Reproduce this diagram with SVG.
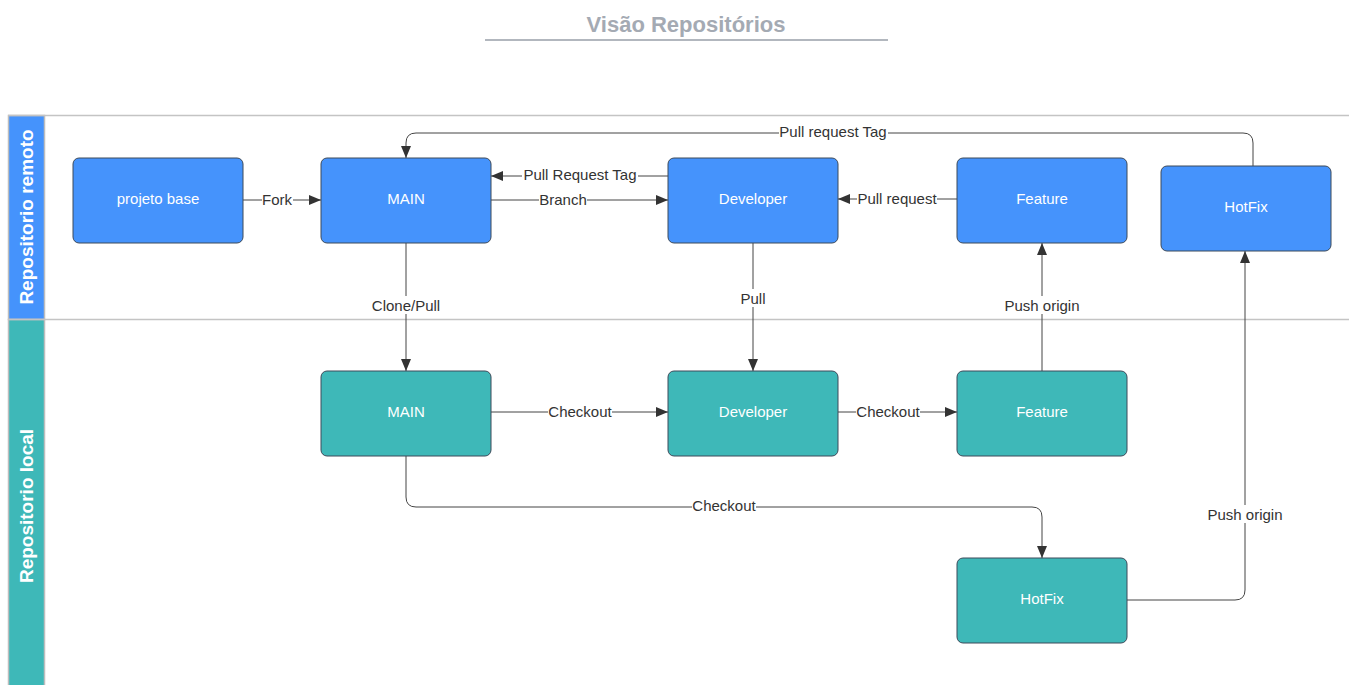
<svg xmlns="http://www.w3.org/2000/svg" width="1349" height="685" viewBox="0 0 1349 685">
<defs>
<marker id="arr" viewBox="0 0 12 10" refX="12" refY="5" markerWidth="12" markerHeight="10" markerUnits="userSpaceOnUse" orient="auto">
<path d="M0,0 L12,5 L0,10 Z" fill="#333"/>
</marker>
<style>
.node rect{stroke:#3d4a5a;stroke-width:1}
.blue rect{fill:#4593fc}
.teal rect{fill:#3eb8b8}
.node text{font-family:"Liberation Sans",Arial,sans-serif;font-size:15px;fill:#fff;text-anchor:middle;dominant-baseline:central}
.edge{fill:none;stroke:#444;stroke-width:1}
.arrow{marker-end:url(#arr)}
.lbl{font-family:"Liberation Sans",Arial,sans-serif;font-size:15px;fill:#333;text-anchor:middle;dominant-baseline:central}
.lane{font-family:"Liberation Sans",Arial,sans-serif;font-size:19px;font-weight:bold;fill:#fff;text-anchor:middle;dominant-baseline:central}
</style>
</defs>
<rect width="1349" height="685" fill="#fff"/>
<g id="title">
<text x="686" y="24" font-family="'Liberation Sans',Arial,sans-serif" font-size="22" font-weight="bold" fill="#a4aab3" text-anchor="middle" dominant-baseline="central">Visão Repositórios</text>
<line x1="485" y1="40" x2="888" y2="40" stroke="#b2b7be" stroke-width="2"/>
</g>
<g id="lanes">
<rect x="8.5" y="115.5" width="36" height="204" fill="#4593fc" stroke="#bdbdbd" stroke-width="1.5"/>
<rect x="8.5" y="319.5" width="36" height="370" fill="#3eb8b8" stroke="#bdbdbd" stroke-width="1.5"/>
<line x1="8" y1="115.5" x2="1349" y2="115.5" stroke="#c4c4c4" stroke-width="1.5"/>
<line x1="8" y1="319.5" x2="1349" y2="319.5" stroke="#c4c4c4" stroke-width="1.5"/>
<text class="lane" transform="translate(26,217) rotate(-90)">Repositorio remoto</text>
<text class="lane" transform="translate(26,506) rotate(-90)">Repositorio local</text>
</g>
<g id="connectors">
<path class="edge arrow" d="M243,200 H321"/>
<path class="edge arrow" d="M491,200 H668"/>
<path class="edge arrow" d="M668,176 H491"/>
<path class="edge arrow" d="M957,199 H838"/>
<path class="edge arrow" d="M1253,166 V143 Q1253,133 1243,133 H416 Q406,133 406,143 V158"/>
<path class="edge arrow" d="M406,243 V371"/>
<path class="edge arrow" d="M753,243 V371"/>
<path class="edge arrow" d="M1042,371 V243"/>
<path class="edge arrow" d="M491,412 H668"/>
<path class="edge arrow" d="M838,412 H957"/>
<path class="edge arrow" d="M406,456 V497 Q406,507 416,507 H1032 Q1042,507 1042,517 V558"/>
<path class="edge arrow" d="M1127,600 H1235 Q1245,600 1245,590 V251"/>
<g>
<rect x="262" y="191" width="31" height="18" fill="#fff"/><text class="lbl" x="277" y="199">Fork</text>
<rect x="539" y="191" width="48" height="18" fill="#fff"/><text class="lbl" x="563" y="199">Branch</text>
<rect x="522" y="166" width="116" height="18" fill="#fff"/><text class="lbl" x="580" y="174">Pull Request Tag</text>
<rect x="857" y="190" width="80" height="18" fill="#fff"/><text class="lbl" x="897" y="198">Pull request</text>
<rect x="779" y="123" width="109" height="18" fill="#fff"/><text class="lbl" x="833" y="131">Pull request Tag</text>
<rect x="371" y="296" width="70" height="18" fill="#fff"/><text class="lbl" x="406" y="305">Clone/Pull</text>
<rect x="739" y="289" width="28" height="18" fill="#fff"/><text class="lbl" x="753" y="298">Pull</text>
<rect x="1003" y="296" width="78" height="18" fill="#fff"/><text class="lbl" x="1042" y="305">Push origin</text>
<rect x="548" y="403" width="64" height="18" fill="#fff"/><text class="lbl" x="580" y="411">Checkout</text>
<rect x="856" y="403" width="64" height="18" fill="#fff"/><text class="lbl" x="888" y="411">Checkout</text>
<rect x="692" y="497" width="64" height="18" fill="#fff"/><text class="lbl" x="724" y="505">Checkout</text>
<rect x="1206" y="505" width="78" height="18" fill="#fff"/><text class="lbl" x="1245" y="514">Push origin</text>
</g>
</g>
<g id="r-base" class="node blue"><rect x="73" y="158" width="170" height="85" rx="6"/><text x="158" y="198">projeto base</text></g>
<g id="r-main" class="node blue"><rect x="321" y="158" width="170" height="85" rx="6"/><text x="406" y="198">MAIN</text></g>
<g id="r-dev" class="node blue"><rect x="668" y="158" width="170" height="85" rx="6"/><text x="753" y="198">Developer</text></g>
<g id="r-feat" class="node blue"><rect x="957" y="158" width="170" height="85" rx="6"/><text x="1042" y="198">Feature</text></g>
<g id="r-hotfix" class="node blue"><rect x="1161" y="166" width="170" height="85" rx="6"/><text x="1246" y="206">HotFix</text></g>
<g id="l-main" class="node teal"><rect x="321" y="371" width="170" height="85" rx="6"/><text x="406" y="411">MAIN</text></g>
<g id="l-dev" class="node teal"><rect x="668" y="371" width="170" height="85" rx="6"/><text x="753" y="411">Developer</text></g>
<g id="l-feat" class="node teal"><rect x="957" y="371" width="170" height="85" rx="6"/><text x="1042" y="411">Feature</text></g>
<g id="l-hotfix" class="node teal"><rect x="957" y="558" width="170" height="85" rx="6"/><text x="1042" y="598">HotFix</text></g>
</svg>
